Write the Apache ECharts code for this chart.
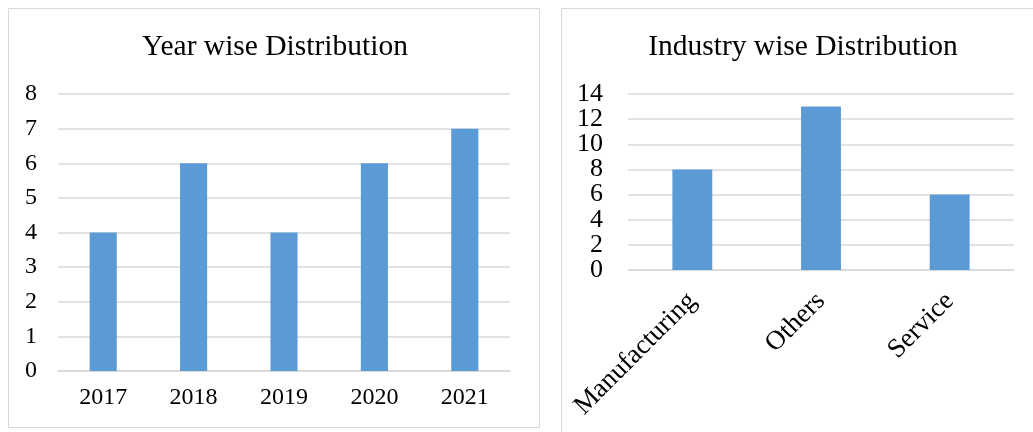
<!DOCTYPE html>
<html>
<head>
<meta charset="utf-8">
<script src="https://cdn.jsdelivr.net/npm/echarts@6/dist/echarts.min.js"></script>
<style>
html,body{margin:0;padding:0;background:#fff;}
#c{width:1033px;height:432px;}
</style>
</head>
<body>
<div id="c"></div>
<script>
const yearCategories = ['2017', '2018', '2019', '2020', '2021'];
const yearValues = [4, 6, 4, 6, 7];
const industryCategories = ['Manufacturing', 'Others', 'Service'];
const industryValues = [8, 13, 6];
const industryTickLabels = ['0', '2', '4', '6', '8', '10', '12', '14'];
const leftTitle = 'Year wise Distribution';
const rightTitle = 'Industry wise Distribution';

const FONT = '"Liberation Serif", "Times New Roman", serif';
const GRID = '#d9d9d9';
const BAR = '#5b9bd5';

const chart = echarts.init(document.getElementById('c'));
chart.setOption({
  animation: false,
  backgroundColor: '#fff',
  title: [
    {text: leftTitle, left: 275, top: 32, textAlign: 'center', padding: 0,
     textStyle: {fontFamily: FONT, fontSize: 29.5, fontWeight: 'normal', color: '#000'}},
    {text: rightTitle, left: 803, top: 32, textAlign: 'center', padding: 0,
     textStyle: {fontFamily: FONT, fontSize: 29.5, fontWeight: 'normal', color: '#000'}}
  ],
  graphic: [
    {type: 'rect', shape: {x: 8.5, y: 8.5, width: 531, height: 419}, style: {fill: 'none', stroke: GRID, lineWidth: 1}},
    {type: 'rect', shape: {x: 561.5, y: 8.5, width: 500, height: 500}, style: {fill: 'none', stroke: GRID, lineWidth: 1}}
  ],
  grid: [
    {left: 58, right: 523, top: 94, bottom: 61},
    {left: 628, right: 19, top: 94, bottom: 162}
  ],
  xAxis: [
    {type: 'category', gridIndex: 0, data: yearCategories,
     axisLine: {show: true, lineStyle: {color: GRID, width: 1.5}}, axisTick: {show: false},
     axisLabel: {fontFamily: FONT, fontSize: 24, color: '#000', margin: 15}},
    {type: 'category', gridIndex: 1, data: industryCategories,
     axisLine: {show: true, lineStyle: {color: GRID, width: 1.5}}, axisTick: {show: false},
     axisLabel: {fontFamily: FONT, fontSize: 27, color: '#000', margin: 27, rotate: 45, interval: 0}}
  ],
  yAxis: [
    {type: 'value', gridIndex: 0, min: 0, max: 8, interval: 1,
     axisLine: {show: false}, axisTick: {show: false},
     splitLine: {lineStyle: {color: GRID, width: 1.5}},
     axisLabel: {fontFamily: FONT, fontSize: 24, color: '#000', margin: 21}},
    {type: 'value', gridIndex: 1, min: 0, max: 14, interval: 2,
     axisLine: {show: false}, axisTick: {show: false},
     splitLine: {lineStyle: {color: GRID, width: 1.5}},
     axisLabel: {show: false}},
    {type: 'category', gridIndex: 1, data: industryTickLabels, boundaryGap: false,
     position: 'left',
     axisLine: {show: false}, axisTick: {show: false}, splitLine: {show: false},
     axisLabel: {interval: 0, fontFamily: FONT, fontSize: 26, color: '#000', margin: 25,
                 hideOverlap: false}}
  ],
  series: [
    {type: 'bar', xAxisIndex: 0, yAxisIndex: 0, data: yearValues, barWidth: '30%',
     itemStyle: {color: BAR}},
    {type: 'bar', xAxisIndex: 1, yAxisIndex: 1, data: industryValues, barWidth: '31%',
     itemStyle: {color: BAR}}
  ]
});
</script>
</body>
</html>
